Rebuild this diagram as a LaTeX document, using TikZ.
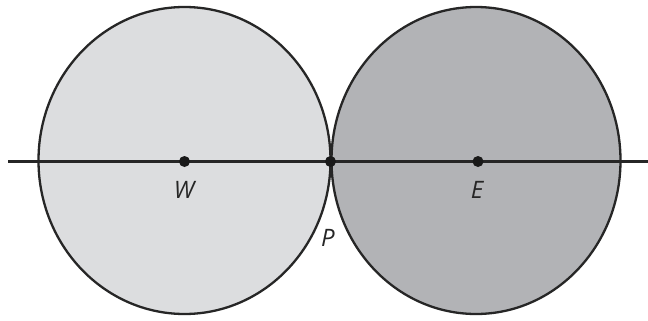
\documentclass[tikz,border=0pt]{standalone}
\usepackage{fontspec}
\setmainfont{Open Sans}
\begin{document}
\begin{tikzpicture}[x=1pt,y=-1pt,
  dot/.style={circle,fill=black!90,inner sep=0pt,minimum size=11pt},
  lab/.style={font=\fontsize{24}{26}\selectfont\itshape,text=black!85,inner sep=0pt},
  outline/.style={draw=black!85,line width=2.3pt}]
\useasboundingbox (0,0) rectangle (648,321);
\definecolor{lightg}{HTML}{DCDDDF}
\definecolor{darkg}{HTML}{B2B3B6}
\fill[lightg] (184.5,160.5) ellipse [x radius=146, y radius=153.5];
\fill[darkg] (476,160.5) ellipse [x radius=144.5, y radius=153.5];
\draw[outline] (184.5,160.5) ellipse [x radius=146, y radius=153.5];
\draw[outline] (476,160.5) ellipse [x radius=144.5, y radius=153.5];
\coordinate (L) at (8,161.5);
\coordinate (R) at (648,161.5);
\draw[black!85,line width=2.3pt] (L) -- (R);
\node[dot] (W) at (184.5,161.5) {};
\node[dot] (E) at (478,161.5) {};
\node[dot] (P) at (330.5,161.5) {};
\node[lab] (Wl) at (184,190) {W};
\node[lab] (El) at (477,190) {E};
\node[lab] (Pl) at (328,238) {P};
\end{tikzpicture}
\end{document}
